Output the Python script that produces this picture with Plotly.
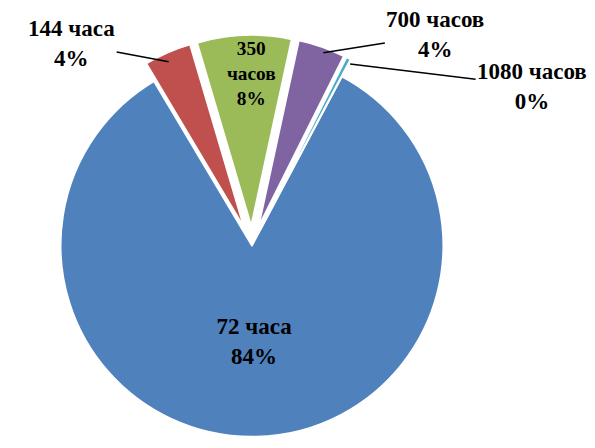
import plotly.graph_objects as go

labels = ["72 часа", "144 часа", "350 часов", "700 часов", "1080 часов"]
values = [84, 4, 8, 4, 0.4]
percent_text = ["84%", "4%", "8%", "4%", "0%"]
colors = ["#4F81BD", "#C0504D", "#9BBB59", "#8064A2", "#4BACC6"]
pulls = [0, 0.1, 0.1, 0.1, 0.1]

serif = "Liberation Serif, DejaVu Serif, serif"
label_font = dict(family=serif, size=23, color="black", weight="bold")

fig = go.Figure(
    go.Pie(
        labels=labels,
        values=values,
        sort=False,
        direction="clockwise",
        rotation=28,
        pull=pulls,
        marker=dict(colors=colors, line=dict(color="white", width=2)),
        texttemplate=[
            "<b>%{label}<br>%{percent:.0%}</b>",
            "",
            "<b>350<br>часов<br>%{percent:.0%}</b>",
            "",
            "",
        ],
        textposition="inside",
        insidetextorientation="horizontal",
        textfont=label_font,
        insidetextfont=label_font,
        domain=dict(x=[0.03, 0.79], y=[0.0, 0.94]),
        hoverinfo="label+percent",
    )
)

# outside labels with leader lines, like the original
outside = [
    # (label index, point x, point y, offset x, offset y)
    (1, 0.27, 0.88, -97, -18),
    (3, 0.53, 0.90, 112, -18),
    (4, 0.575, 0.875, 182, 22),
]
for i, px, py, ox, oy in outside:
    fig.add_annotation(
        x=px, y=py, xref="paper", yref="paper",
        ax=ox, ay=oy,
        text=f"<b>{labels[i]}<br>{percent_text[i]}</b>",
        showarrow=True, arrowhead=0, arrowwidth=1.5, arrowcolor="black",
        font=label_font,
    )

fig.update_layout(
    width=595,
    height=448,
    showlegend=False,
    paper_bgcolor="white",
    margin=dict(l=0, r=0, t=0, b=0),
    font=dict(family=serif, size=23, color="black"),
)

fig.write_html("out.html")
